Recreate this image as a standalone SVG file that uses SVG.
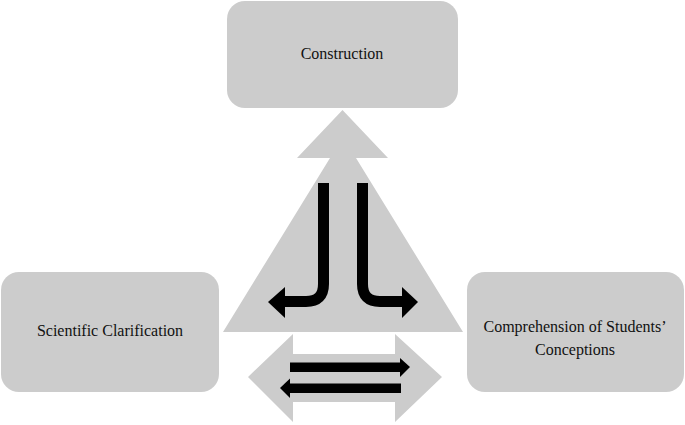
<svg xmlns="http://www.w3.org/2000/svg" width="685" height="425" viewBox="0 0 685 425">
<style>
.box{fill:#cccccc}
.lbl{font-family:'Liberation Serif','Times New Roman','DejaVu Serif',serif;font-size:16px;fill:#111;text-anchor:middle}
.blk{fill:#000}
.bend{fill:none;stroke:#000;stroke-width:11}
</style>
<rect width="685" height="425" fill="#ffffff"/>
<g id="construction">
<rect class="box" x="227" y="1" width="231" height="107" rx="18"/>
<text class="lbl" x="342" y="59" font-family="Liberation Serif, serif">Construction</text>
</g>
<g id="scientific-clarification">
<rect class="box" x="1" y="272" width="218" height="120" rx="18"/>
<text class="lbl" x="110" y="336">Scientific Clarification</text>
</g>
<g id="comprehension">
<rect class="box" x="467" y="272" width="217" height="120" rx="18"/>
<text class="lbl" x="575" y="332">Comprehension of Students’</text>
<text class="lbl" x="575" y="355">Conceptions</text>
</g>
<g id="connectors">
<polygon class="box" points="342.5,110 388,158 356,158 463,332 223,332 330,158 297,158"/>
<path class="bend" d="M323.5,183 V284 Q323.5,301.5 306,301.5 H284"/>
<polygon class="blk" points="268,302 285,287 285,318"/>
<path class="bend" d="M362.5,183 V284 Q362.5,301.5 380,301.5 H403"/>
<polygon class="blk" points="418,302 402,287 402,318"/>
<polygon class="box" points="248,377 293,334 293,354 395,354 395,334 442,377 395,422 395,402 293,402 293,422"/>
<rect class="blk" x="290" y="362.5" width="112" height="9.5"/>
<polygon class="blk" points="410,367 400,358 400,377"/>
<rect class="blk" x="289" y="383.5" width="112" height="9.5"/>
<polygon class="blk" points="280,388 290,378.5 290,398"/>
</g>
</svg>
